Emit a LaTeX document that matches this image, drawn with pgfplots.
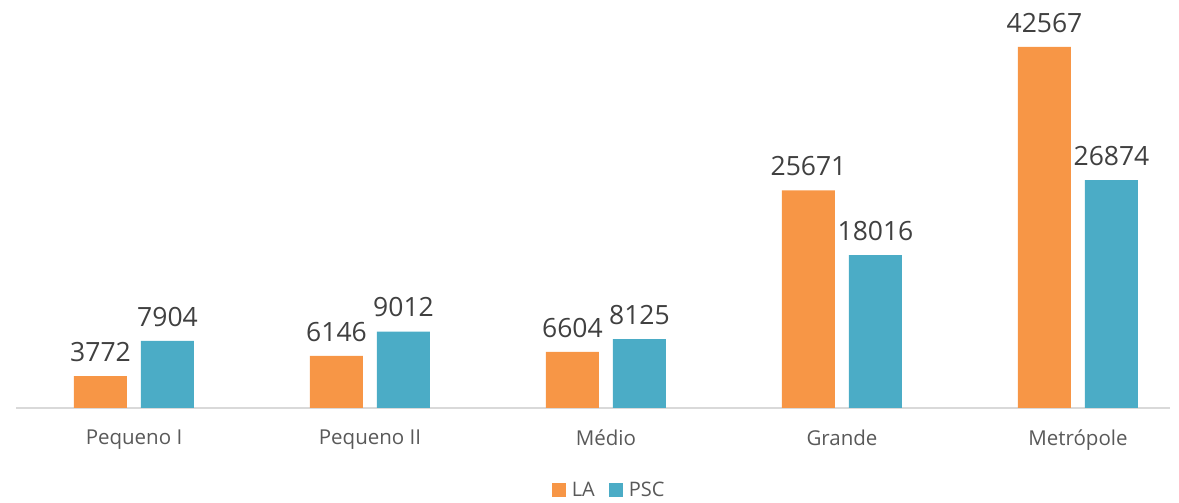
\documentclass[border=0pt]{standalone}
\usepackage{pgfplots}
\pgfplotsset{compat=1.18}
\usepackage{fontspec}
\setmainfont{Open Sans}
\definecolor{la}{HTML}{F79646}
\definecolor{psc}{HTML}{4BACC6}
\definecolor{axisgray}{HTML}{D9D9D9}
\definecolor{ticktext}{HTML}{595959}
\definecolor{numtext}{HTML}{404040}
\begin{document}
\begin{tikzpicture}[x=1pt,y=1pt]
\useasboundingbox (0,0) rectangle (1179,503);
\begin{axis}[
  at={(16pt,95pt)}, anchor=south west,
  scale only axis, width=1154pt, height=408pt,
  xmin=-0.5, xmax=4.39, ymin=0, ymax=48108,
  axis x line*=bottom, axis y line=none,
  x axis line style={axisgray, line width=1.2pt, -},
  xtick={0,1,2,3,4}, xticklabels={Pequeno I,Pequeno II,Médio,Grande,Metrópole},
  major tick length=0pt,
  xticklabel style={font=\fontsize{20.5}{24}\selectfont, text=ticktext, yshift=-18pt},
  ybar, bar width=53pt,
  nodes near coords={\pgfmathprintnumber[fixed,precision=0,1000 sep={}]{\pgfplotspointmeta}},
  nodes near coords style={font=\fontsize{26.5}{31}\selectfont, text=numtext, anchor=south, yshift=11pt},
  /pgf/number format/assume math mode=true,
  legend columns=2,
  legend style={draw=none, at={(0.514,-0.201)}, anchor=center, font=\fontsize{20}{23}\selectfont, text=ticktext, column sep=12pt, /tikz/every odd column/.append style={column sep=4pt}},
  legend image code/.code={\fill[#1] (0pt,-7pt) rectangle (14pt,7pt);},
]
\addplot[fill=la, draw=none, bar shift=-33.5pt] coordinates {(0,3772) (1,6146) (2,6604) (3,25671) (4,42567)};
\addplot[fill=psc, draw=none, bar shift=33.5pt] coordinates {(0,7904) (1,9012) (2,8125) (3,18016) (4,26874)};
\legend{LA,PSC}
\end{axis}
\end{tikzpicture}
\end{document}
